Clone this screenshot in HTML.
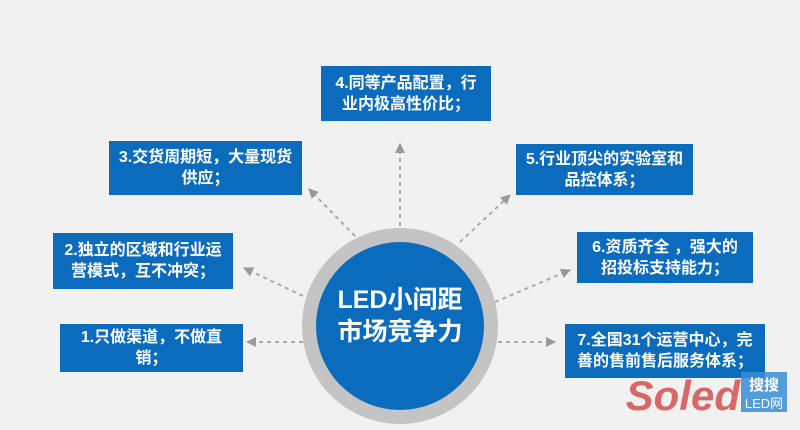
<!DOCTYPE html>
<html><head><meta charset="utf-8"><style>
body{margin:0;width:800px;height:430px;overflow:hidden;background:#f1f1f1;font-family:"Liberation Sans","Noto Sans CJK SC",sans-serif}
.b{position:absolute;background:#0b6cbd;color:#fff;font-weight:bold;font-size:16px;line-height:21px;text-align:center;display:flex;align-items:center;justify-content:center;box-sizing:border-box;padding:0;white-space:nowrap}
</style></head><body>
<svg width="800" height="430" style="position:absolute;left:0;top:0">
<defs><marker id="a" viewBox="0 0 10 10" refX="9" refY="5" markerWidth="5" markerHeight="5" orient="auto"><path d="M0,0L10,5L0,10z" fill="#999"/></marker></defs>
<g stroke="#aaa" stroke-width="2" stroke-dasharray="4,4" fill="none" marker-end="url(#a)">
<line x1="303" y1="342" x2="247" y2="342"/>
<line x1="303" y1="296" x2="244" y2="268"/>
<line x1="355" y1="236" x2="309" y2="189"/>
<line x1="400" y1="226" x2="400" y2="144"/>
<line x1="460" y1="242" x2="510" y2="195"/>
<line x1="495" y1="302" x2="570" y2="270"/>
<line x1="498" y1="342" x2="555" y2="342"/>
</g>
<circle cx="400" cy="326" r="98" fill="#c4c4c4"/>
<circle cx="400" cy="326" r="84" fill="#0b6cbd"/>
<text x="400" y="308" fill="#fff" font-size="25" font-weight="bold" text-anchor="middle" font-family="Liberation Sans,Noto Sans CJK SC,sans-serif">LED小间距</text>
<text x="400" y="340" fill="#fff" font-size="25" font-weight="bold" text-anchor="middle" font-family="Liberation Sans,Noto Sans CJK SC,sans-serif">市场竞争力</text>
</svg>
<div class="b" style="left:60px;top:324px;width:183px;height:48px">1.只做渠道，不做直<br>销；</div>
<div class="b" style="left:53px;top:233px;width:180px;height:56px">2.独立的区域和行业运<br>营模式，互不冲突；</div>
<div class="b" style="left:109px;top:141px;width:193px;height:54px">3.交货周期短，大量现货<br>供应；</div>
<div class="b" style="left:321px;top:66px;width:170px;height:55px">4.同等产品配置，行<br>业内极高性价比；</div>
<div class="b" style="left:516px;top:144px;width:177px;height:51px">5.行业顶尖的实验室和<br>品控体系；</div>
<div class="b" style="left:577px;top:232px;width:176px;height:51px">6.资质齐全 ，强大的<br>招投标支持能力；</div>
<div class="b" style="left:565px;top:324px;width:200px;height:54px">7.全国31个运营中心，完<br>善的售前售后服务体系；</div>
<svg width="800" height="430" style="position:absolute;left:0;top:0">
<text x="740" y="410" fill="#d23a3a" font-size="42" font-style="italic" font-weight="bold" opacity="0.75" font-family="Liberation Sans,sans-serif" text-anchor="end">Soled</text>
<rect x="741" y="372" width="46" height="40" fill="#3a8ed6" opacity="0.85"/>
<text x="764" y="390" fill="#fff" font-size="15" font-weight="bold" text-anchor="middle" font-family="Liberation Sans,Noto Sans CJK SC,sans-serif">搜搜</text>
<text x="764" y="408" fill="#fff" font-size="13" text-anchor="middle" font-family="Liberation Sans,Noto Sans CJK SC,sans-serif">LED网</text>
</svg>
</body></html>
